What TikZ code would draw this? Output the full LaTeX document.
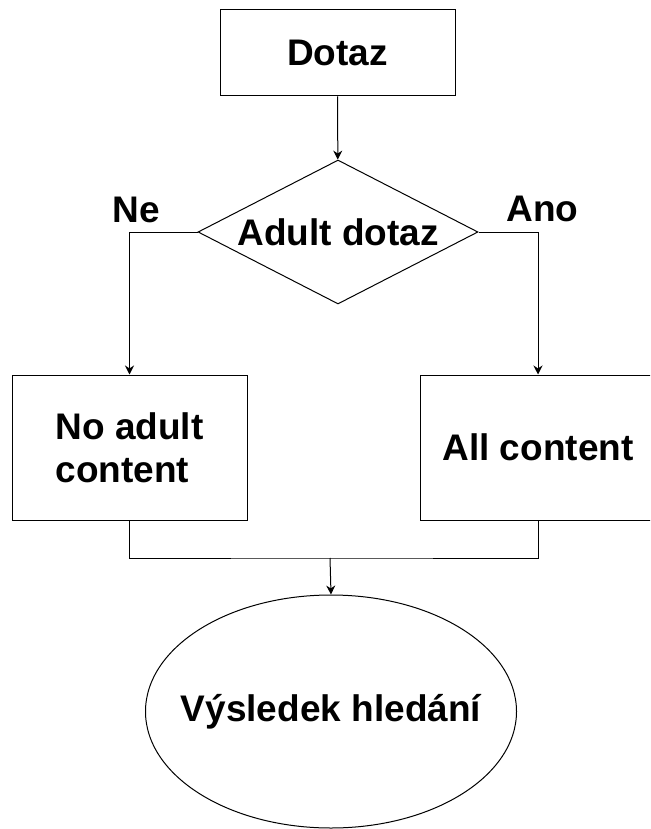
\documentclass[tikz,border=0pt]{standalone}
\usepackage{fontspec}
\setmainfont{Liberation Sans}
\usetikzlibrary{arrows.meta,shapes.geometric}

\begin{document}
\begin{tikzpicture}[
  x=1pt, y=-1pt,
  >={Stealth[length=9pt,width=9pt]},
  font=\bfseries\fontsize{37}{43}\selectfont,
  line width=1pt,
  box/.style={rectangle,draw,inner sep=0,align=left},
  test/.style={diamond,draw,inner sep=0,shape aspect=1.94,minimum width=280pt,minimum height=144pt},
  goal/.style={ellipse,draw,inner sep=0,minimum width=371pt,minimum height=233pt},
  ans/.style={anchor=base west,inner sep=0},
]
  \clip (0,0) rectangle (650,829);
  \useasboundingbox (0,0) rectangle (650,829);

  \foreach \name/\x/\y/\w/\h/\txt in {dotaz/337.5/53/235/86/{Dotaz},
      noadult/129.5/447.5/235/145/{No adult\\content}, allc/538/447.5/236/145/{All content}}
    \node[box, minimum width=\w pt, minimum height=\h pt] (\name) at (\x, \y) {\txt};

  \node[test] (query) at (338, 232) {Adult dotaz};
  \node[goal] (result) at (331, 711.5) {\makebox[0pt]{Výsledek hledání}};
  \node[ans] (ne) at (112, 222) {Ne};
  \node[ans] (ano) at (506, 221) {Ano};
  \coordinate (merge) at (330, 558);

  \draw[->] (dotaz) -- (query);
  \draw[->] (query.west) -| (noadult.north);
  \draw[->] (query.east) -| (allc.north);
  \draw (noadult.south) |- (merge) -| (allc.south);
  \draw[->] (merge) -- (result.north);
\end{tikzpicture}
\end{document}
